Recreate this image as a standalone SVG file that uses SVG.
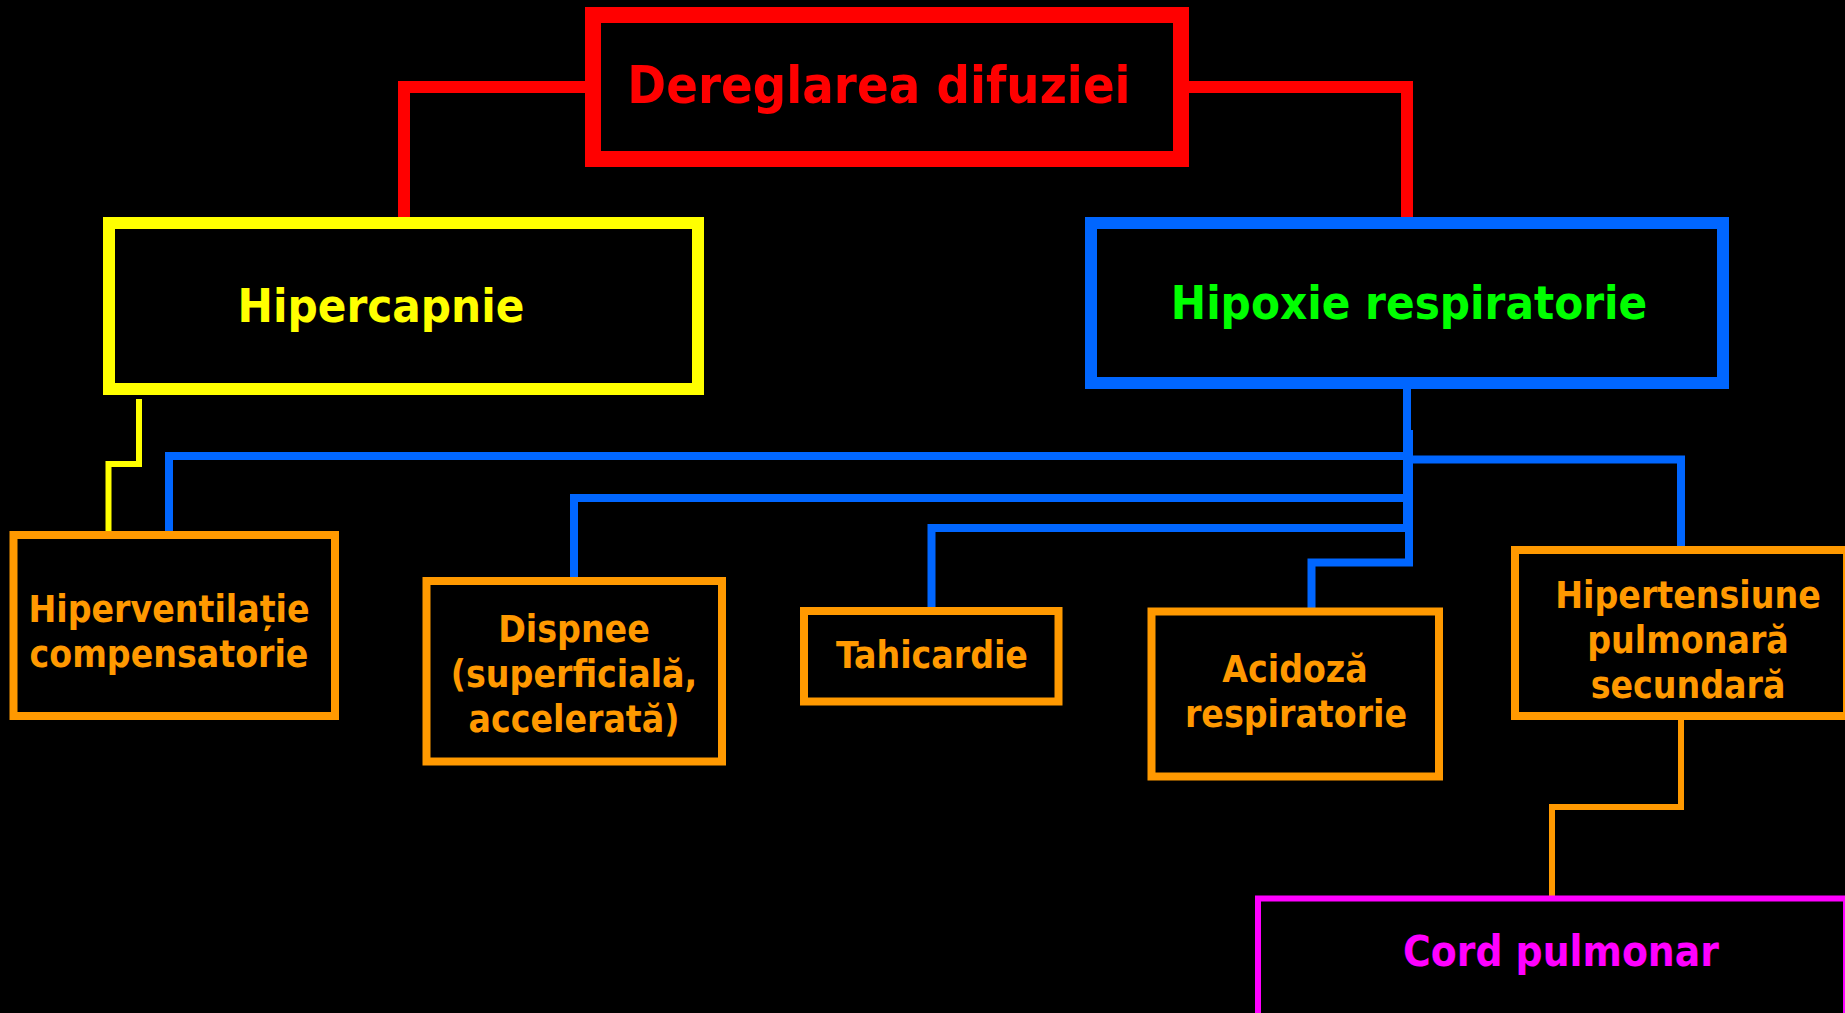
<svg xmlns="http://www.w3.org/2000/svg" width="1845" height="1013" viewBox="0 0 1845 1013">
<style>
text{font-family:"DejaVu Sans Condensed","DejaVu Sans","Liberation Sans",sans-serif;font-weight:bold;text-anchor:middle}
.box{fill:none}
.c{fill:none;stroke-linejoin:miter;stroke-linecap:butt}
</style>
<rect width="1845" height="1013" fill="#000"/>
<g id="connectors">
<path class="c" d="M593 87H404V217" stroke="#FF0000" stroke-width="12"/>
<path class="c" d="M1181 87H1407V217" stroke="#FF0000" stroke-width="12"/>
<path class="c" d="M139 399V464H108.5V531" stroke="#FFFF00" stroke-width="6"/>
<path class="c" d="M1407 389V456H169V535" stroke="#0066FF" stroke-width="8"/>
<path class="c" d="M1409 430V459.5H1681V546" stroke="#0066FF" stroke-width="8"/>
<path class="c" d="M1407 430V498H574V580" stroke="#0066FF" stroke-width="8"/>
<path class="c" d="M1407 430V528H931.5V611" stroke="#0066FF" stroke-width="8"/>
<path class="c" d="M1409 430V562.5H1311.5V611" stroke="#0066FF" stroke-width="8"/>
<path class="c" d="M1681 720V807H1552V898" stroke="#FF9900" stroke-width="6"/>
</g>
<g id="dereglarea">
<rect class="box" x="593" y="15" width="588" height="144" stroke="#FF0000" stroke-width="16"/>
<text x="879" y="103" font-size="52" fill="#FF0000">Dereglarea difuziei</text>
</g>
<g id="hipercapnie">
<rect class="box" x="109" y="223" width="589" height="166" stroke="#FFFF00" stroke-width="12"/>
<text x="381" y="322" font-size="47" fill="#FFFF00">Hipercapnie</text>
</g>
<g id="hipoxie">
<rect class="box" x="1091" y="223" width="632" height="160" stroke="#0066FF" stroke-width="12"/>
<text x="1409" y="319" font-size="47" fill="#00FF00">Hipoxie respiratorie</text>
</g>
<g id="hiperventilatie">
<rect class="box" x="13.5" y="535" width="321.5" height="181" stroke="#FF9900" stroke-width="8"/>
<text x="169" y="621.5" font-size="37" fill="#FF9900">Hiperventilație</text>
<text x="169" y="666.5" font-size="37" fill="#FF9900">compensatorie</text>
</g>
<g id="dispnee">
<rect class="box" x="426.5" y="581" width="295.5" height="180.5" stroke="#FF9900" stroke-width="8"/>
<text x="574" y="641.5" font-size="37" fill="#FF9900">Dispnee</text>
<text x="574" y="686.5" font-size="37" fill="#FF9900">(superficială,</text>
<text x="574" y="731.5" font-size="37" fill="#FF9900">accelerată)</text>
</g>
<g id="tahicardie">
<rect class="box" x="804" y="611" width="254.5" height="90.5" stroke="#FF9900" stroke-width="8"/>
<text x="932" y="668" font-size="37" fill="#FF9900">Tahicardie</text>
</g>
<g id="acidoza">
<rect class="box" x="1151.5" y="611.5" width="287.5" height="165" stroke="#FF9900" stroke-width="8"/>
<text x="1295" y="681.5" font-size="37" fill="#FF9900">Acidoză</text>
<text x="1296" y="726.5" font-size="37" fill="#FF9900">respiratorie</text>
</g>
<g id="hipertensiune">
<rect class="box" x="1515" y="550" width="332" height="166" stroke="#FF9900" stroke-width="8"/>
<text x="1688" y="608" font-size="37" fill="#FF9900">Hipertensiune</text>
<text x="1688" y="653" font-size="37" fill="#FF9900">pulmonară</text>
<text x="1688" y="697.5" font-size="37" fill="#FF9900">secundară</text>
</g>
<g id="cord">
<rect class="box" x="1258" y="898.5" width="588" height="118" stroke="#FF00FF" stroke-width="6"/>
<text x="1561" y="966" font-size="42" fill="#FF00FF">Cord pulmonar</text>
</g>
</svg>
